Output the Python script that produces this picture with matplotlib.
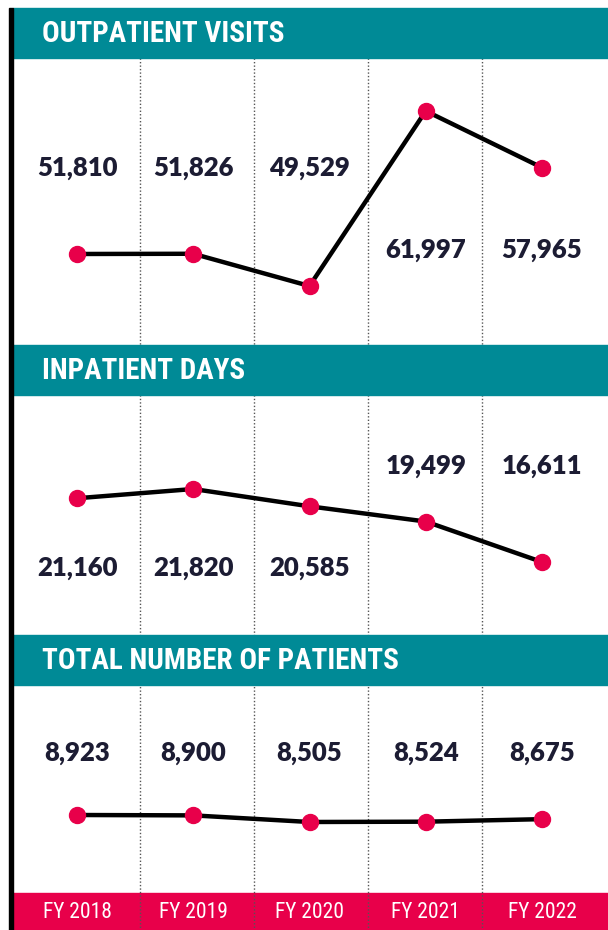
import matplotlib
matplotlib.use("Agg")
import matplotlib.pyplot as plt
from matplotlib.patches import Rectangle
from matplotlib import font_manager as fm

years = ["FY 2018", "FY 2019", "FY 2020", "FY 2021", "FY 2022"]
outpatient = [51810, 51826, 49529, 61997, 57965]
inpatient = [21160, 21820, 20585, 19499, 16611]
patients = [8923, 8900, 8505, 8524, 8675]
titles = ["OUTPATIENT VISITS", "INPATIENT DAYS", "TOTAL NUMBER OF PATIENTS"]
# label above (True) or below (False) row per point
out_above = [True, True, True, False, False]
inp_above = [False, False, False, True, True]
pat_above = [True] * 5

TEAL = "#008a96"
RED = "#e8004a"
NAVY = "#1c1c33"

names = {f.name for f in fm.fontManager.ttflist}
def pick(cands):
    for c in cands:
        if c in names:
            return c
    return "DejaVu Sans"
cond = pick(["Liberation Sans Narrow", "Roboto Condensed", "Open Sans Condensed", "Roboto"])
numfont = pick(["Lato", "Roboto"])
narrow = cond != "Roboto"

W, H = 608, 930
fig = plt.figure(figsize=(W / 100, H / 100), dpi=100)

xl = (-77 / 116.25, (W - 77) / 116.25)

def fy(px):
    return 1 - px / H

# background axes in pixel-like y units
bg = fig.add_axes([0, 0, 1, 1])
bg.set_xlim(*xl)
bg.set_ylim(H, 0)
bg.axis("off")

x = list(range(len(years)))
for i in range(len(years) - 1):
    d = 0.542 + i * 0.981
    bg.plot([d, d], [58, H], color="#555555", lw=1.0,
            linestyle=(0, (1, 1.5)), zorder=1)

xleft = xl[0] + 13 / 116.25
bands = [(8, 58), (345, 395), (635, 685)]
for (y0, y1), t in zip(bands, titles):
    bg.add_patch(Rectangle((xleft, y0), xl[1] - xleft, y1 - y0, color=TEAL, zorder=3))
    bg.text(xl[0] + 42 / 116.25, (y0 + y1) / 2 + 1, t, color="white",
            fontsize=21 if narrow else 19,
            fontweight="bold", family=cond, va="center", ha="left", zorder=4)
bg.add_patch(Rectangle((xleft, 893), xl[1] - xleft, H - 893, color=RED, zorder=0.5))
bg.add_patch(Rectangle((xl[0] + 9 / 116.25, 8), 4 / 116.25, H - 8, color="black", zorder=5))
for xi, yr in zip(x, years):
    bg.text(xi, 912, yr, color="white", fontsize=15.5, family=cond,
            ha="center", va="center", zorder=4)

panels = [
    (outpatient, (58, 345), (45326, 65773), out_above, (0.617, 0.331)),
    (inpatient, (395, 635), (11402, 28528), inp_above, (0.704, 0.279)),
    (patients, (685, 893), (4266, 16684), pat_above, (0.673, 0.673)),
]
for vals, (top, bot), ylim, above, (ya, yb) in panels:
    ax = fig.add_axes([0, fy(bot), 1, (bot - top) / H])
    ax.set_xlim(*xl)
    ax.set_ylim(*ylim)
    ax.axis("off")
    ax.patch.set_alpha(0)
    ax.plot(x, vals, color="black", lw=3.2, zorder=2, solid_capstyle="round")
    ax.plot(x, vals, "o", color=RED, markersize=11.5, zorder=3)
    for xi, v, a in zip(x, vals, above):
        ax.text(xi, ya if a else yb, f"{v:,}", transform=ax.get_xaxis_transform(),
                ha="center", va="center", fontsize=18.5, fontweight="heavy",
                family=numfont, color=NAVY)

fig.savefig("out.png", dpi=100)
